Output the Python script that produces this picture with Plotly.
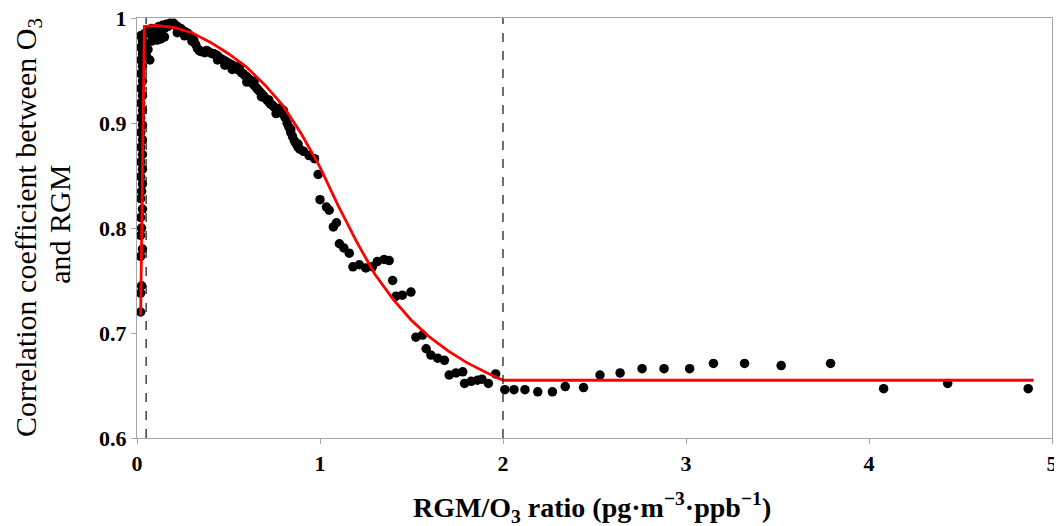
import plotly.graph_objects as go

# Scatter points: vertical band near x~0.02
band_x = [0.02, 0.03, 0.02, 0.03, 0.02, 0.03, 0.02, 0.03, 0.02, 0.03, 0.02, 0.03,
          0.02, 0.03, 0.02, 0.03, 0.02, 0.03, 0.02, 0.03, 0.02, 0.03, 0.025, 0.02,
          0.03, 0.02, 0.025, 0.02, 0.03, 0.02, 0.025, 0.02, 0.02]
band_y = [0.983, 0.978, 0.972, 0.966, 0.960, 0.954, 0.947, 0.940, 0.933, 0.926, 0.919, 0.912,
          0.905, 0.898, 0.891, 0.884, 0.877, 0.870, 0.863, 0.856, 0.849, 0.842, 0.835, 0.828,
          0.818, 0.810, 0.800, 0.793, 0.780, 0.773, 0.745, 0.738, 0.720]

# Scatter points along the main decay
main_x = [0.04, 0.05, 0.05, 0.06, 0.06, 0.07, 0.07, 0.08, 0.09, 0.10, 0.10, 0.11, 0.12, 0.13,
          0.14, 0.15, 0.15, 0.16, 0.17, 0.18, 0.19, 0.20, 0.21, 0.22, 0.23, 0.24, 0.25,
          0.26, 0.27, 0.28, 0.29, 0.30, 0.31, 0.32, 0.33, 0.34, 0.35, 0.36, 0.37, 0.38,
          0.39, 0.40, 0.41, 0.42, 0.43, 0.44, 0.45, 0.46, 0.47, 0.48, 0.49, 0.50, 0.51,
          0.52, 0.53, 0.54, 0.55, 0.56, 0.57, 0.58, 0.59, 0.60, 0.61, 0.62, 0.63, 0.64,
          0.65, 0.66, 0.67, 0.68, 0.69, 0.70, 0.71, 0.72, 0.73, 0.74, 0.75, 0.76, 0.77,
          0.78, 0.79, 0.80, 0.81, 0.82, 0.83, 0.84, 0.85, 0.86, 0.87, 0.88, 0.89, 0.91,
          0.94, 0.97, 0.99, 1.00, 1.035, 1.05, 1.073, 1.09, 1.106, 1.13, 1.16, 1.18,
          1.215, 1.25, 1.286, 1.313, 1.35, 1.378, 1.397, 1.415, 1.45, 1.497, 1.524, 1.56,
          1.58, 1.606, 1.643, 1.68, 1.706, 1.743, 1.78, 1.79, 1.826, 1.86, 1.885, 1.92,
          1.96, 2.01, 2.06, 2.12, 2.19, 2.27, 2.34, 2.44, 2.53, 2.64, 2.76, 2.88, 3.02,
          3.15, 3.32, 3.52, 3.79, 4.08, 4.43, 4.87]
main_y = [0.985, 0.975, 0.965, 0.970, 0.988, 0.960, 0.985, 0.990, 0.980, 0.990, 0.982, 0.988,
          0.992, 0.980, 0.993, 0.990, 0.982, 0.994, 0.992, 0.995, 0.994, 0.995, 0.993, 0.992,
          0.990, 0.990, 0.988, 0.987, 0.986, 0.985, 0.983, 0.982, 0.979, 0.975, 0.971,
          0.969, 0.968, 0.968, 0.967, 0.969, 0.968, 0.967, 0.966, 0.966, 0.965, 0.964,
          0.962, 0.961, 0.960, 0.959, 0.958, 0.957, 0.956, 0.955, 0.954, 0.952, 0.951,
          0.950, 0.948, 0.947, 0.945, 0.944, 0.942, 0.940, 0.938, 0.936, 0.934, 0.932,
          0.930, 0.928, 0.926, 0.924, 0.922, 0.920, 0.918, 0.917, 0.915, 0.914, 0.912,
          0.914, 0.911, 0.908, 0.905, 0.900, 0.896, 0.891, 0.887, 0.883, 0.880, 0.877,
          0.875, 0.873, 0.869, 0.866, 0.851, 0.827, 0.820, 0.817, 0.801, 0.805, 0.785,
          0.781, 0.776, 0.763, 0.765, 0.762, 0.763, 0.768, 0.770, 0.769, 0.750, 0.735,
          0.736, 0.739, 0.696, 0.698, 0.685, 0.679, 0.676, 0.674, 0.660, 0.662, 0.663,
          0.652, 0.654, 0.655, 0.656, 0.652, 0.661, 0.646, 0.646, 0.646, 0.644, 0.644,
          0.649, 0.648, 0.660, 0.662, 0.666, 0.666, 0.666, 0.671, 0.671, 0.669, 0.671,
          0.647, 0.652, 0.647]

# Extra points that thicken the band (scattered just off the main row)
extra_x = [0.08, 0.11, 0.13, 0.22, 0.26, 0.30, 0.44, 0.48, 0.52, 0.56, 0.60, 0.64,
           0.68, 0.72, 0.76, 0.80, 0.84, 0.88]
extra_y = [0.978, 0.979, 0.985, 0.986, 0.983, 0.978, 0.960, 0.955, 0.951, 0.954, 0.939,
           0.940, 0.925, 0.922, 0.909, 0.912, 0.894, 0.880]

# Fitted red curve
fit_x = [0.02, 0.04, 0.10, 0.20, 0.30, 0.40, 0.50, 0.60, 0.70, 0.80, 0.90, 1.00, 1.10,
         1.20, 1.30, 1.40, 1.50, 1.60, 1.70, 1.80, 1.90, 2.00, 4.90]
fit_y = [0.717, 0.992, 0.993, 0.991, 0.986, 0.977, 0.966, 0.953, 0.936, 0.916, 0.889,
         0.858, 0.821, 0.787, 0.756, 0.732, 0.712, 0.696, 0.683, 0.672, 0.663, 0.655, 0.655]

vlines_x = [0.05, 2.0]

x_ticks = [0, 1, 2, 3, 4, 5]
y_ticks = [0.6, 0.7, 0.8, 0.9, 1.0]
y_tick_labels = ["0.6", "0.7", "0.8", "0.9", "1"]

fig = go.Figure()
fig.add_trace(go.Scatter(x=band_x + main_x + extra_x, y=band_y + main_y + extra_y,
                         mode="markers", marker=dict(color="black", size=9.5),
                         showlegend=False))
fig.add_trace(go.Scatter(x=fit_x, y=fit_y, mode="lines",
                         line=dict(color="#ff0000", width=2.8), showlegend=False))
for vx in vlines_x:
    fig.add_shape(type="line", x0=vx, x1=vx, y0=0.6, y1=1.0, xref="x", yref="y",
                  line=dict(color="#222222", width=1.3, dash="dash"))

tickfont = dict(family="Liberation Serif", size=22, color="black")
# The page adds an 8px body margin, so the figure is 8px smaller than the window.
fig.update_layout(
    width=1054, height=518,
    margin=dict(l=129, r=10, t=10, b=88, autoexpand=False),
    plot_bgcolor="white", paper_bgcolor="white",
    font=dict(family="Liberation Serif", color="black"),
    xaxis=dict(range=[0, 5], tickvals=x_ticks,
               ticktext=[f"<b>{t}</b>" for t in x_ticks],
               showgrid=False, zeroline=False, showline=True, linecolor="#a6a6a6",
               linewidth=1.3, mirror=True, ticks="outside", tickcolor="#a6a6a6",
               ticklen=5, tickfont=tickfont, automargin=False,
               ticklabeloverflow="allow"),
    yaxis=dict(range=[0.6, 1.0], tickvals=y_ticks,
               ticktext=[f"<b>{t}</b>" for t in y_tick_labels],
               showgrid=False, zeroline=False, showline=True, linecolor="#a6a6a6",
               linewidth=1.3, mirror=True, ticks="outside", tickcolor="#a6a6a6",
               ticklen=5, tickfont=tickfont, automargin=False,
               ticklabeloverflow="allow"),
)

fig.add_annotation(text="<b>RGM/O<sub>3</sub> ratio (pg·m<sup>−3</sup>·ppb<sup>−1</sup>)</b>",
                   xref="paper", yref="paper", x=0.497, y=-0.165,
                   xanchor="center", yanchor="middle", showarrow=False,
                   font=dict(family="Liberation Serif", size=28, color="black"))
fig.add_annotation(text="Correlation coefficient between O<sub>3</sub>",
                   xref="paper", yref="paper", x=-0.1191, y=0.5, textangle=-90,
                   xanchor="center", yanchor="middle", showarrow=False,
                   font=dict(family="Liberation Serif", size=30, color="black"))
fig.add_annotation(text="and RGM",
                   xref="paper", yref="paper", x=-0.0842, y=0.51, textangle=-90,
                   xanchor="center", yanchor="middle", showarrow=False,
                   font=dict(family="Liberation Serif", size=30, color="black"))

fig.write_html("out.html")
